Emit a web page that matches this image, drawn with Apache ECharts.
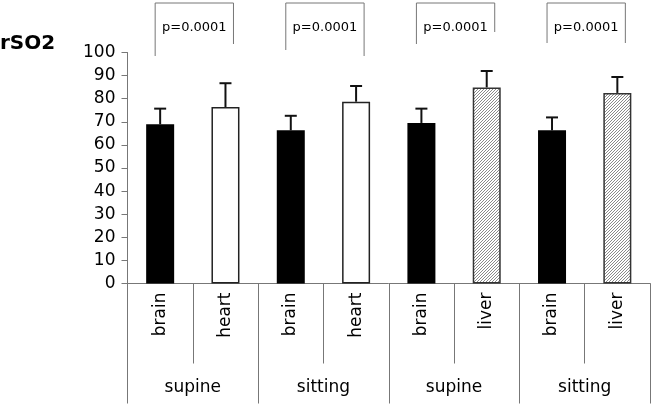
<!DOCTYPE html>
<html>
<head>
<meta charset="utf-8">
<script src="https://cdn.jsdelivr.net/npm/echarts@6/dist/echarts.min.js"></script>
<style>html,body{margin:0;padding:0;background:#fff}#c{width:654px;height:406px}</style>
</head>
<body>
<div id="c"></div>
<script>
// ---- data ----
const categories = ['brain', 'heart', 'brain', 'heart', 'brain', 'liver', 'brain', 'liver'];
const groups = ['supine', 'sitting', 'supine', 'sitting'];
const means = [68.9, 76.4, 66.3, 78.7, 69.5, 84.9, 66.3, 82.5];
const sds = [6.8, 10.3, 6.3, 6.8, 6.2, 7.1, 5.6, 6.9];
const comparisons = [[0, 1], [2, 3], [4, 5], [6, 7]];
const pLabels = ['p=0.0001', 'p=0.0001', 'p=0.0001', 'p=0.0001'];
const yMin = 0, yMax = 100, yInterval = 10;

// ---- styles ----
function hatch() {
  const n = 3;
  const c = document.createElement('canvas');
  c.width = n; c.height = n;
  const g = c.getContext('2d');
  g.fillStyle = '#fff'; g.fillRect(0, 0, n, n);
  g.strokeStyle = '#8a8a8a'; g.lineWidth = 1;
  g.beginPath();
  g.moveTo(0, n); g.lineTo(n, 0);
  g.moveTo(-1, 1); g.lineTo(1, -1);
  g.moveTo(n - 1, n + 1); g.lineTo(n + 1, n - 1);
  g.stroke();
  return c;
}
const organStyle = {
  brain: { color: '#000', borderColor: '#000', borderWidth: 0 },
  heart: { color: '#fff', borderColor: '#222', borderWidth: 1.5 },
  liver: { color: { image: hatch(), repeat: 'repeat' }, borderColor: '#333', borderWidth: 1.5 }
};
const FONT = 'DejaVu Sans';
const GREY = '#777';

const chart = echarts.init(document.getElementById('c'), null, { renderer: 'canvas' });
chart.setOption({
  animation: false,
  backgroundColor: '#fff',
  title: {
    text: 'rSO2', left: 0, top: 34, padding: 0,
    textStyle: { fontFamily: FONT, fontWeight: 'bold', fontSize: 20, color: '#000' }
  },
  grid: { left: 127.5, right: 4, top: 52.5, bottom: 122.5, containLabel: false },
  xAxis: [{
    type: 'category', data: categories, position: 'bottom',
    axisLine: { show: true, lineStyle: { color: GREY, width: 1 } },
    axisTick: { show: true, interval: 0, length: 80, lineStyle: { color: GREY, width: 1 } },
    axisLabel: { rotate: 90, interval: 0, margin: 9, fontFamily: FONT, fontSize: 17, color: '#000' }
  }, {
    type: 'category', data: groups, position: 'bottom',
    axisLine: { show: false },
    axisTick: { show: true, interval: 0, length: 120, lineStyle: { color: GREY, width: 1 } },
    axisLabel: { interval: 0, margin: 96, fontFamily: FONT, fontSize: 17, color: '#000' }
  }],
  yAxis: {
    type: 'value', min: yMin, max: yMax, interval: yInterval,
    axisLine: { show: true, lineStyle: { color: GREY, width: 1 } },
    axisTick: { show: true, inside: false, length: 6, lineStyle: { color: GREY } },
    splitLine: { show: false },
    axisLabel: { margin: 12, fontFamily: FONT, fontSize: 17, color: '#000' }
  },
  series: [{
    type: 'bar', xAxisIndex: 0, barWidth: 28,
    data: means.map((v, i) => ({ value: v, itemStyle: organStyle[categories[i]] }))
  }, {
    type: 'custom', xAxisIndex: 0, z: 5,
    data: means.map((v, i) => [i, v, sds[i]]),
    renderItem: function (params, api) {
      const i = api.value(0), m = api.value(1), s = api.value(2);
      const base = api.coord([i, m]);
      const top = api.coord([i, m + s]);
      const half = 6;
      return {
        type: 'group',
        children: [{
          type: 'line', shape: { x1: base[0], y1: base[1], x2: top[0], y2: top[1] },
          style: { stroke: '#111', lineWidth: 2 }
        }, {
          type: 'line', shape: { x1: top[0] - half, y1: top[1], x2: top[0] + half, y2: top[1] },
          style: { stroke: '#111', lineWidth: 2 }
        }]
      };
    }
  }]
});

// significance brackets (annotations placed from bar positions)
const bracketTop = 3, leftOff = -5, rightOff = 8, dropEnds = [[56, 44], [50, 56], [44, 32], [43, 43]];
const graphics = [];
comparisons.forEach(([a, b], k) => {
  const xa = chart.convertToPixel({ xAxisIndex: 0 }, a) + leftOff;
  const xb = chart.convertToPixel({ xAxisIndex: 0 }, b) + rightOff;
  graphics.push({
    type: 'polyline', silent: true,
    shape: { points: [[xa, dropEnds[k][0]], [xa, bracketTop], [xb, bracketTop], [xb, dropEnds[k][1]]] },
    style: { stroke: GREY, lineWidth: 1, fill: null }
  });
  graphics.push({
    type: 'text', silent: true, x: (xa + xb) / 2, y: 28,
    style: { text: pLabels[k], fontFamily: FONT, fontSize: 13, fill: '#000', align: 'center', verticalAlign: 'middle' }
  });
});
chart.setOption({ graphic: graphics });
</script>
</body>
</html>
